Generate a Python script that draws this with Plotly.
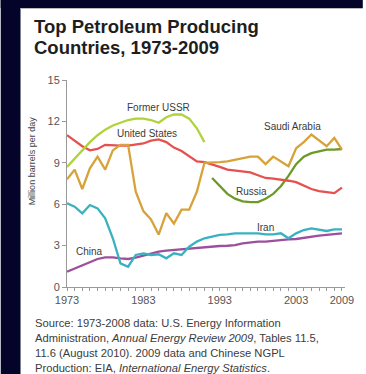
import plotly.graph_objects as go

W, H = 366, 374
years = list(range(1973, 2010))

ussr_years = list(range(1973, 1992))
ussr = [8.7, 9.3, 9.9, 10.5, 11.0, 11.4, 11.7, 11.9, 12.1, 12.2, 12.2, 12.1, 11.9,
        12.3, 12.5, 12.5, 12.2, 11.5, 10.5]

us = [11.0, 10.6, 10.2, 9.9, 10.0, 10.3, 10.25, 10.25, 10.25, 10.3, 10.4, 10.6, 10.7,
      10.5, 10.1, 9.85, 9.5, 9.1, 9.05, 8.9, 8.7, 8.5, 8.45, 8.4, 8.3, 8.1, 7.9, 7.85,
      7.8, 7.7, 7.6, 7.35, 7.1, 6.95, 6.9, 6.8, 7.2]

saudi = [7.8, 8.5, 7.1, 8.6, 9.45, 8.5, 9.9, 10.3, 10.3, 6.9, 5.5, 4.9, 3.8, 5.35,
         4.6, 5.6, 5.6, 6.9, 9.0, 9.0, 9.05, 9.1, 9.2, 9.3, 9.45, 9.45, 8.9, 9.45,
         9.1, 8.75, 10.05, 10.5, 11.05, 10.65, 10.2, 10.8, 9.95]

russia_years = list(range(1992, 2010))
russia = [7.9, 7.3, 6.75, 6.4, 6.2, 6.15, 6.15, 6.4, 6.75, 7.3, 8.05, 8.9, 9.45,
          9.7, 9.85, 9.95, 9.95, 10.0]

iran = [6.06, 5.82, 5.34, 5.94, 5.70, 4.98, 3.53, 1.71, 1.47, 2.32, 2.44, 2.32, 2.37,
        2.08, 2.44, 2.32, 2.92, 3.29, 3.53, 3.65, 3.77, 3.81, 3.89, 3.89, 3.89, 3.89,
        3.81, 3.81, 3.89, 3.53, 3.89, 4.13, 4.25, 4.13, 4.06, 4.18, 4.18]

china = [1.11, 1.35, 1.59, 1.83, 2.03, 2.15, 2.15, 2.08, 2.03, 2.13, 2.27, 2.44, 2.56,
         2.63, 2.68, 2.75, 2.80, 2.85, 2.87, 2.92, 2.97, 2.99, 3.04, 3.16, 3.24, 3.29,
         3.29, 3.36, 3.41, 3.45, 3.48, 3.57, 3.65, 3.72, 3.77, 3.81, 3.89]

x_labels = {1973: "1973", 1983: "1983", 1993: "1993", 2003: "2003", 2009: "2009"}
y_ticks = [0, 3, 6, 9, 12, 15]

series = [
    ("China", years, china, "#9c4f9c"),
    ("Iran", years, iran, "#38b2c0"),
    ("Russia", russia_years, russia, "#6b9a26"),
    ("United States", years, us, "#e4514f"),
    ("Saudi Arabia", years, saudi, "#d8a23a"),
    ("Former USSR", ussr_years, ussr, "#b0d23a"),
]

labels = [
    ("Former USSR", 1985.0, 13.0),
    ("United States", 1983.5, 11.1),
    ("Saudi Arabia", 2002.5, 11.6),
    ("Russia", 1997.1, 6.9),
    ("Iran", 1999.0, 4.3),
    ("China", 1976.0, 2.55),
]

title_lines = ["Top Petroleum Producing", "Countries, 1973-2009"]
source_lines = [
    "Source: 1973-2008 data: U.S. Energy Information",
    "Administration, <i>Annual Energy Review 2009</i>, Tables 11.5,",
    "11.6 (August 2010). 2009 data and Chinese NGPL",
    "Production: EIA, <i>International Energy Statistics</i>.",
]

L, R, T, B = 67, 18, 80, 87
PW, PH = W - L - R, H - T - B

def px(x):
    return (x - L) / PW

def py(y):
    return (H - B - y) / PH

fig = go.Figure()
for name, xs, ys, col in series:
    fig.add_trace(go.Scatter(x=xs, y=ys, mode="lines", name=name,
                             line=dict(color=col, width=2.3), showlegend=False,
                             hoverinfo="skip"))

font = "Liberation Sans, Arial, sans-serif"
ann = []
for text, xv, yv in labels:
    ann.append(dict(x=xv, y=yv, xref="x", yref="y", text=text, showarrow=False,
                    font=dict(family=font, size=10, color="#3a3a3a")))

for i, t in enumerate(title_lines):
    ann.append(dict(x=px(32), y=py(27 + 21 * i), xref="paper", yref="paper",
                    text="<b>" + t + "</b>", showarrow=False, xanchor="left",
                    yanchor="middle", font=dict(family=font, size=18.5, color="#1e1e1e")))

ann.append(dict(x=px(32), y=py(161), xref="paper", yref="paper",
                text="Million barrels per day", textangle=-90, showarrow=False,
                xanchor="center", yanchor="middle",
                font=dict(family=font, size=9, color="#444")))

for i, s in enumerate(source_lines):
    ann.append(dict(x=px(33), y=py(323 + 15 * i), xref="paper", yref="paper",
                    text=s, showarrow=False, xanchor="left", yanchor="middle",
                    font=dict(family=font, size=11.2, color="#3c3c3c")))

shapes = [
    dict(type="rect", xref="paper", yref="paper", x0=px(0), x1=px(20), y0=py(H), y1=py(0),
         fillcolor="#04042b", line=dict(width=0), layer="above"),
    dict(type="rect", xref="paper", yref="paper", x0=px(0), x1=px(W), y0=py(8), y1=py(0),
         fillcolor="#04042b", line=dict(width=0), layer="above"),
    dict(type="line", xref="paper", yref="paper", x0=px(20), x1=px(W), y0=py(8.5), y1=py(8.5),
         line=dict(color="#bbbbbb", width=1), layer="above"),
]

fig.update_layout(
    width=W, height=H,
    margin=dict(l=L, r=R, t=T, b=B, pad=0),
    paper_bgcolor="white", plot_bgcolor="white",
    annotations=ann, shapes=shapes,
    xaxis=dict(range=[1973, 2009.4], tickvals=years,
               ticktext=[x_labels.get(y, "") for y in years],
               ticks="outside", ticklen=3, tickcolor="#999", tickwidth=1,
               showline=True, linecolor="#999", linewidth=1,
               showgrid=False, zeroline=False,
               tickfont=dict(family=font, size=11, color="#555")),
    xaxis2=dict(range=[1973, 2009.4], overlaying="x", anchor="y", side="bottom",
                tickvals=years, ticks="inside", ticklen=3, tickcolor="#999",
                showticklabels=False, showline=False, showgrid=False, zeroline=False),
    yaxis=dict(range=[0, 15], tickvals=y_ticks, ticks="outside", ticklen=4,
               tickcolor="#999", showline=True, linecolor="#999", linewidth=1,
               showgrid=False, zeroline=False,
               tickfont=dict(family=font, size=11, color="#555")),
)

fig.write_html("out.html", config={"displayModeBar": False},
               post_script="document.body.style.margin='0';document.body.style.overflow='hidden';")
